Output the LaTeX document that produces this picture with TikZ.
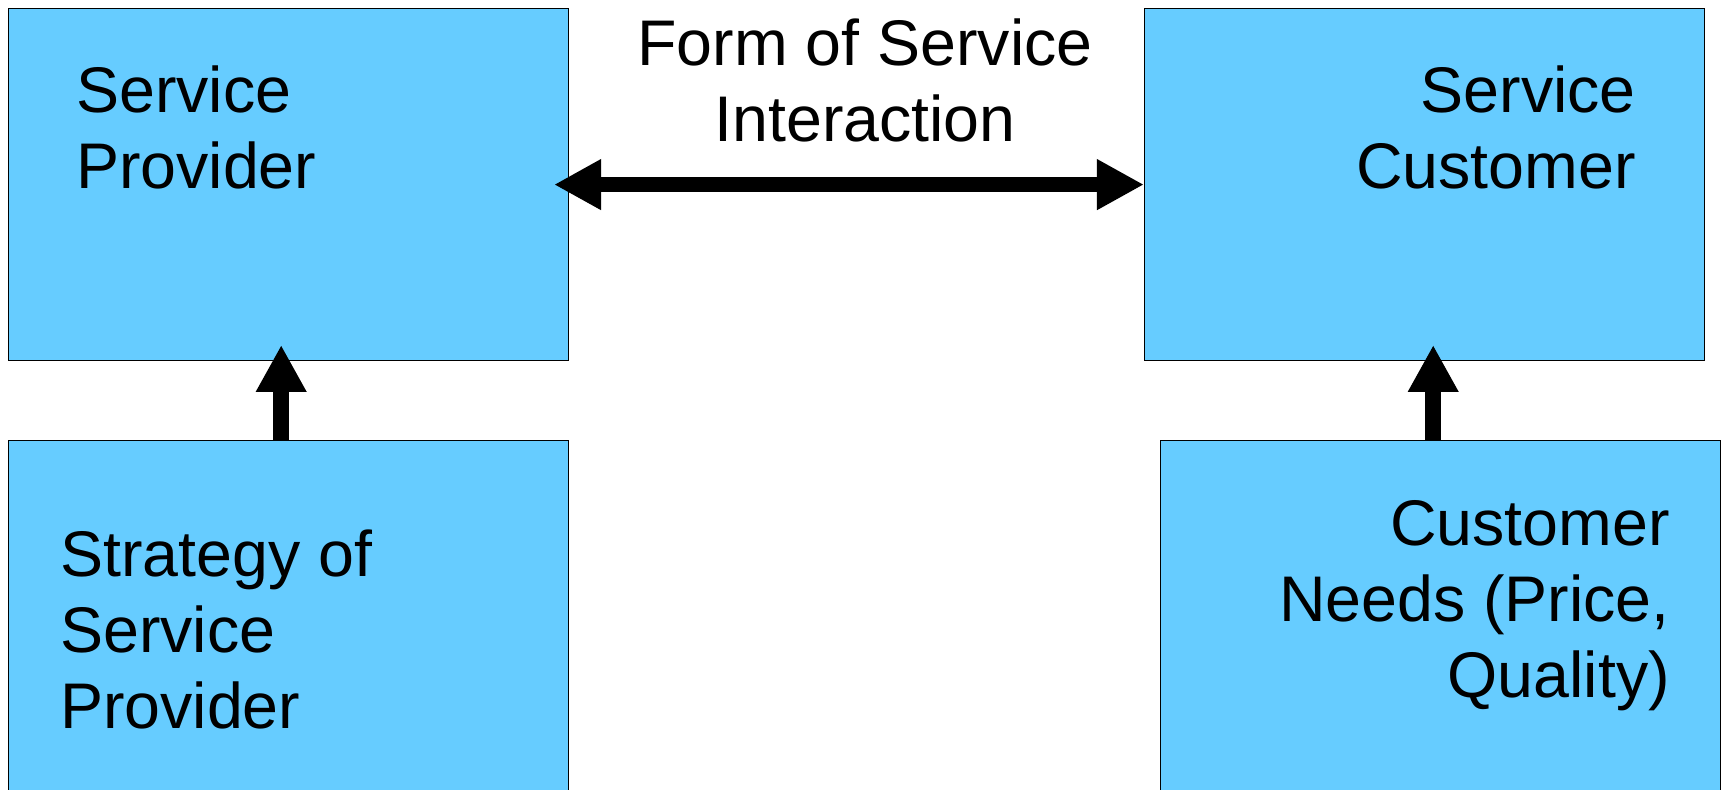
\documentclass[tikz,border=0pt]{standalone}
\usepackage{fontspec}
\setmainfont{Liberation Sans}
\usetikzlibrary{arrows.meta}
\definecolor{boxblue}{HTML}{66CCFF}
\begin{document}
\begin{tikzpicture}[x=1pt,y=1pt,
  box/.style={draw=black, line width=1.5pt, fill=boxblue, rectangle, inner sep=0pt},
  lbl/.style={inner sep=0pt, font=\fontsize{64.5}{76}\selectfont},
  bigarrow/.style={line width=15.6pt, -{Triangle[length=47pt,width=47.5pt]}},
  dblarrow/.style={line width=15.6pt, {Triangle[length=47pt,width=47.5pt]}-{Triangle[length=47pt,width=47.5pt]}}]
\useasboundingbox (0,0) rectangle (1725,790);
\node[box, minimum width=560.2pt, minimum height=352.2pt] (tl) at (288.6,605.4) {};
\node[box, minimum width=560pt, minimum height=352.2pt] (tr) at (1424.7,605.4) {};
\node[box, minimum width=560.2pt, minimum height=354.7pt] (bl) at (288.6,172.35) {};
\node[box, minimum width=559.6pt, minimum height=354.7pt] (br) at (1440.5,172.35) {};
\node[lbl, anchor=base west, align=left] (tltext) at (76,601) {Service\\Provider};
\node[lbl, anchor=base east, align=right] (trtext) at (1636,601) {Service\\Customer};
\node[lbl, anchor=base, align=center] (formtext) at (865,648) {Form of Service\\Interaction};
\node[lbl, anchor=base west, align=left] (bltext) at (60,61) {Strategy of\\Service\\Provider};
\node[lbl, anchor=base east, align=right] (brtext) at (1670,92) {Customer\\Needs (Price,\\Quality)};
\draw[dblarrow] ([xshift=-15.4pt]tl.east) -- (tr.west);
\coordinate (la) at (281.2,790-345);
\coordinate (ra) at (1433.2,790-345);
\draw[bigarrow] (bl.north -| la) -- (la);
\draw[bigarrow] (br.north -| ra) -- (ra);
\end{tikzpicture}
\end{document}
